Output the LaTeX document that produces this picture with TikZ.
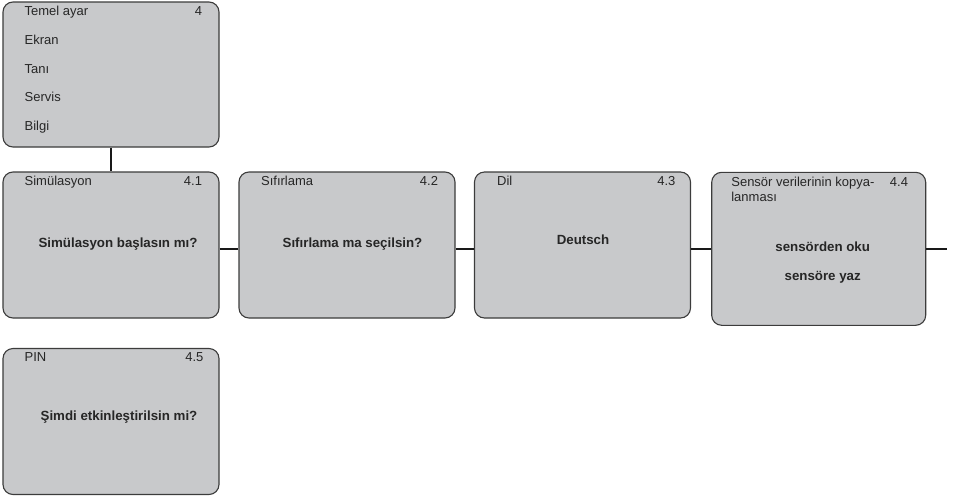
\documentclass[tikz,border=0pt]{standalone}
\usepackage{fontspec}
\setmainfont{Liberation Sans}
\usepackage{tikz}
\usetikzlibrary{positioning}

\definecolor{panelgray}{RGB}{200,201,203}
\definecolor{rimgray}{RGB}{60,60,60}

\tikzset{
    menubox/.style={draw=rimgray, line width=1.1pt, fill=panelgray, rounded corners=10pt,
        minimum width=216pt, minimum height=146pt, inner sep=0pt},
    boxtitle/.style={anchor=base west, inner sep=0pt, text=black!85, font=\fontsize{13}{15}\selectfont},
    boxnum/.style={anchor=base east, inner sep=0pt, text=black!85, font=\fontsize{13}{15}\selectfont},
    boxtext/.style={anchor=base, inner sep=0pt, text=black!85, font=\bfseries\fontsize{13.3}{15}\selectfont},
    link/.style={line width=2.6pt, black!90},
}

\begin{document}
\begin{tikzpicture}[x=1pt, y=-1pt]
    \useasboundingbox (0,0) rectangle (956,496);

    % menu boxes
    \node[menubox, minimum height=145pt] (base) at (111,74.5) {};
    \node[menubox] (s41) at (111,245) {};
    \node[menubox] (s42) at (347,245) {};
    \node[menubox] (s43) at (582.5,245) {};
    \node[menubox, minimum width=214pt, minimum height=153pt] (s44) at (818.7,248.8) {};
    \node[menubox] (s45) at (111,421.5) {};

    % connectors
    \coordinate (tail) at (947,248.8);
    \draw[link] (base.south) -- (s41.north);
    \draw[link] (s41.east |- s44.west) -- (s42.west |- s44.west);
    \draw[link] (s42.east |- s44.west) -- (s43.west |- s44.west);
    \draw[link] (s43.east |- s44.west) -- (s44.west);
    \draw[link] (s44.east) -- (tail);

    % top menu
    \node[boxtitle] (base title) at ([xshift=22pt, yshift=-14.5pt]base.north west) {Temel ayar};
    \node[boxnum] (base num) at ([xshift=-17.3pt, yshift=-14.5pt]base.north east) {4};
    \foreach \entry [count=\k] in {Ekran, Tanı, Servis, Bilgi}
        \node[boxtitle] (entry\k) at ([xshift=22pt, yshift={-14.5pt-28.6pt*\k}]base.north west) {\entry};

    % titles and numbers
    \node[boxtitle] (s41 title) at ([xshift=22pt, yshift=-13.8pt]s41.north west) {Simülasyon};
    \node[boxnum] (s41 num) at ([xshift=-17.3pt, yshift=-13.8pt]s41.north east) {4.1};
    \node[boxtitle] (s42 title) at ([xshift=22.5pt, yshift=-13.8pt]s42.north west) {Sıfırlama};
    \node[boxnum] (s42 num) at ([xshift=-17.3pt, yshift=-13.8pt]s42.north east) {4.2};
    \node[boxtitle] (s43 title) at ([xshift=23pt, yshift=-13.8pt]s43.north west) {Dil};
    \node[boxnum] (s43 num) at ([xshift=-15.5pt, yshift=-13.8pt]s43.north east) {4.3};
    \node[boxtitle, anchor=north west, align=left] (s44 title) at ([xshift=20pt, yshift=-5.5pt]s44.north west) {Sensör verilerinin kopya-\\lanması};
    \node[boxnum] (s44 num) at ([xshift=-18pt, yshift=-14.5pt]s44.north east) {4.4};
    \node[boxtitle] (s45 title) at ([xshift=22pt, yshift=-13.8pt]s45.north west) {PIN};
    \node[boxnum] (s45 num) at ([xshift=-16pt, yshift=-13.8pt]s45.north east) {4.5};

    % bold questions
    \node[boxtext, xshift=7pt, yshift=-2.5pt] (s41 text) at (s41.center) {Simülasyon başlasın mı?};
    \node[boxtext, xshift=5.5pt, yshift=-2.5pt] (s42 text) at (s42.center) {Sıfırlama ma seçilsin?};
    \node[boxtext, xshift=0.5pt, yshift=1pt] (s43 text) at (s43.center) {Deutsch};
    \node[boxtext, xshift=4pt, yshift=-3pt] (s44 read) at (s44.center) {sensörden oku};
    \node[boxtext, xshift=4pt, yshift=-31.7pt] (s44 write) at (s44.center) {sensöre yaz};
    \node[boxtext, xshift=8pt, yshift=1pt] (s45 text) at (s45.center) {Şimdi etkinleştirilsin mi?};
\end{tikzpicture}
\end{document}
